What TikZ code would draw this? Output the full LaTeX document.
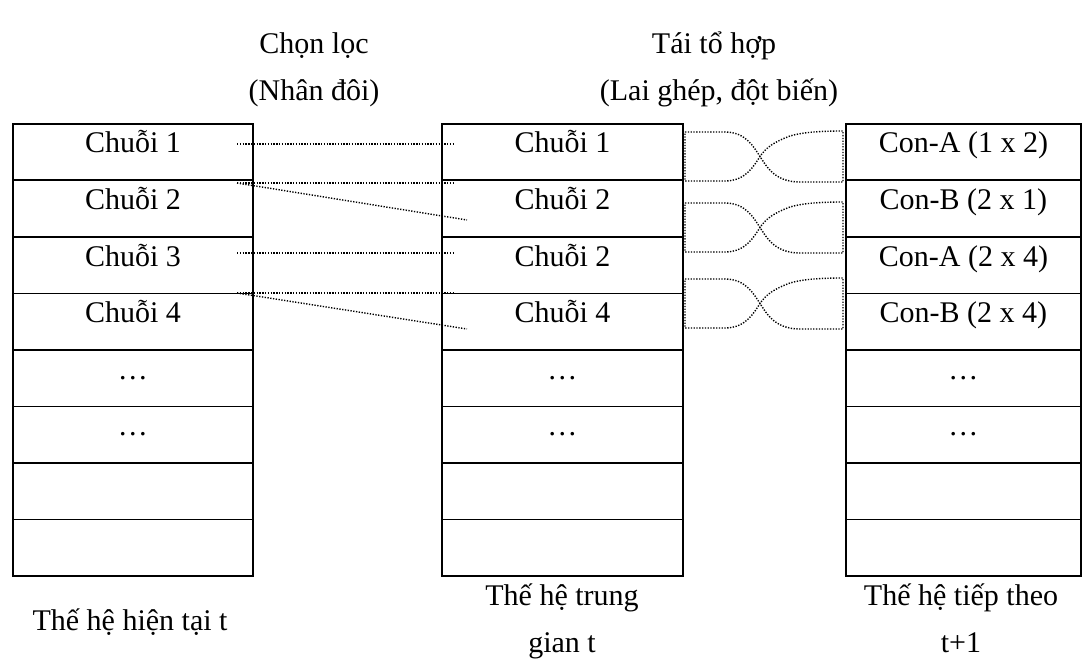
\documentclass[tikz,border=0pt]{standalone}
\usepackage{fontspec}
\setmainfont{Liberation Serif}
\begin{document}
\begin{tikzpicture}[x=1pt,y=-1pt,
  cellbox/.style={draw,line width=1.9pt,minimum width=#1,minimum height=56.5pt,inner sep=0pt,anchor=north west},
  celltxt/.style={font=\fontsize{30}{36}\selectfont,anchor=base,inner sep=0pt},
  lbl/.style={font=\fontsize{30}{36}\selectfont,anchor=base,inner sep=0pt},
  dotline/.style={line width=1.4pt,dash pattern=on 1.3pt off 1.5pt}]
\useasboundingbox (0,0) rectangle (1084,663);
% columns
\foreach \i in {1,...,8}{
  \node[cellbox=240pt] (L\i) at (12,{123+56.5*(\i-1)}) {};
  \node[cellbox=241pt] (M\i) at (441,{123+56.5*(\i-1)}) {};
  \node[cellbox=235pt] (R\i) at (845,{123+56.5*(\i-1)}) {};
}
% texts
\foreach \i/\t in {1/Chuỗi 1,2/Chuỗi 2,3/Chuỗi 3,4/Chuỗi 4,5/…,6/…}{
  \node[celltxt] (tL\i) at ([yshift=-30pt]L\i.north) {\t};
}
\foreach \i/\t in {1/Chuỗi 1,2/Chuỗi 2,3/Chuỗi 2,4/Chuỗi 4,5/…,6/…}{
  \node[celltxt] (tM\i) at ([yshift=-30pt]M\i.north) {\t};
}
\foreach \i/\t in {1/Con-A (1 x 2),2/Con-B (2 x 1),3/Con-A (2 x 4),4/Con-B (2 x 4),5/…,6/…}{
  \node[celltxt] (tR\i) at ([yshift=-30pt]R\i.north) {\t};
}
% headers
\node[lbl] (h1) at (314,54) {Chọn lọc};
\node[lbl] (h2) at (314,101) {(Nhân đôi)};
\node[lbl] (h3) at (714,54) {Tái tổ hợp};
\node[lbl] (h4) at (719,101) {(Lai ghép, đột biến)};
% bottom labels
\node[lbl] (b1) at (130,630) {Thế hệ hiện tại t};
\node[lbl] (b2) at (562,605) {Thế hệ trung};
\node[lbl] (b3) at (562,652) {gian t};
\node[lbl] (b4) at (961,605) {Thế hệ tiếp theo};
\node[lbl] (b5) at (961,652) {t+1};
% selection lines
\coordinate (s1) at (237,144); \coordinate (e1) at (453,144);
\coordinate (s2) at (237,183); \coordinate (e2) at (453,183); \coordinate (d2) at (467,220);
\coordinate (s3) at (237,253); \coordinate (e3) at (453,253);
\coordinate (s4) at (237,293); \coordinate (e4) at (453,293); \coordinate (d4) at (467,329);
\draw[dotline] (s1) -- (e1);
\draw[dotline] (s2) -- (e2);
\draw[dotline] (s2) -- (d2);
\draw[dotline] (s3) -- (e3);
\draw[dotline] (s4) -- (e4);
\draw[dotline] (s4) -- (d4);
% crossover shapes
\foreach \t/\b in {132/181,203/252,279/328}{
  \pgfmathsetmacro{\m}{(\t+\b)/2}
  \draw[dotline] (685,\t) -- (725,\t)
    .. controls (746,\t) and (754,{\m-9}) .. (760,\m)
    .. controls (766,{\m+9}) and (774,{\b+1}) .. (800,{\b+1})
    -- (843,{\b+1}) -- (843,{\t-1})
    .. controls (815,{\t-1}) and (800,{\t+1}) .. (790,{\t+4})
    .. controls (774,{\t+10}) and (766,{\m-9}) .. (760,\m)
    .. controls (754,{\m+9}) and (746,\b) .. (725,\b) -- (685,\b) -- cycle;
}
\end{tikzpicture}
\end{document}
